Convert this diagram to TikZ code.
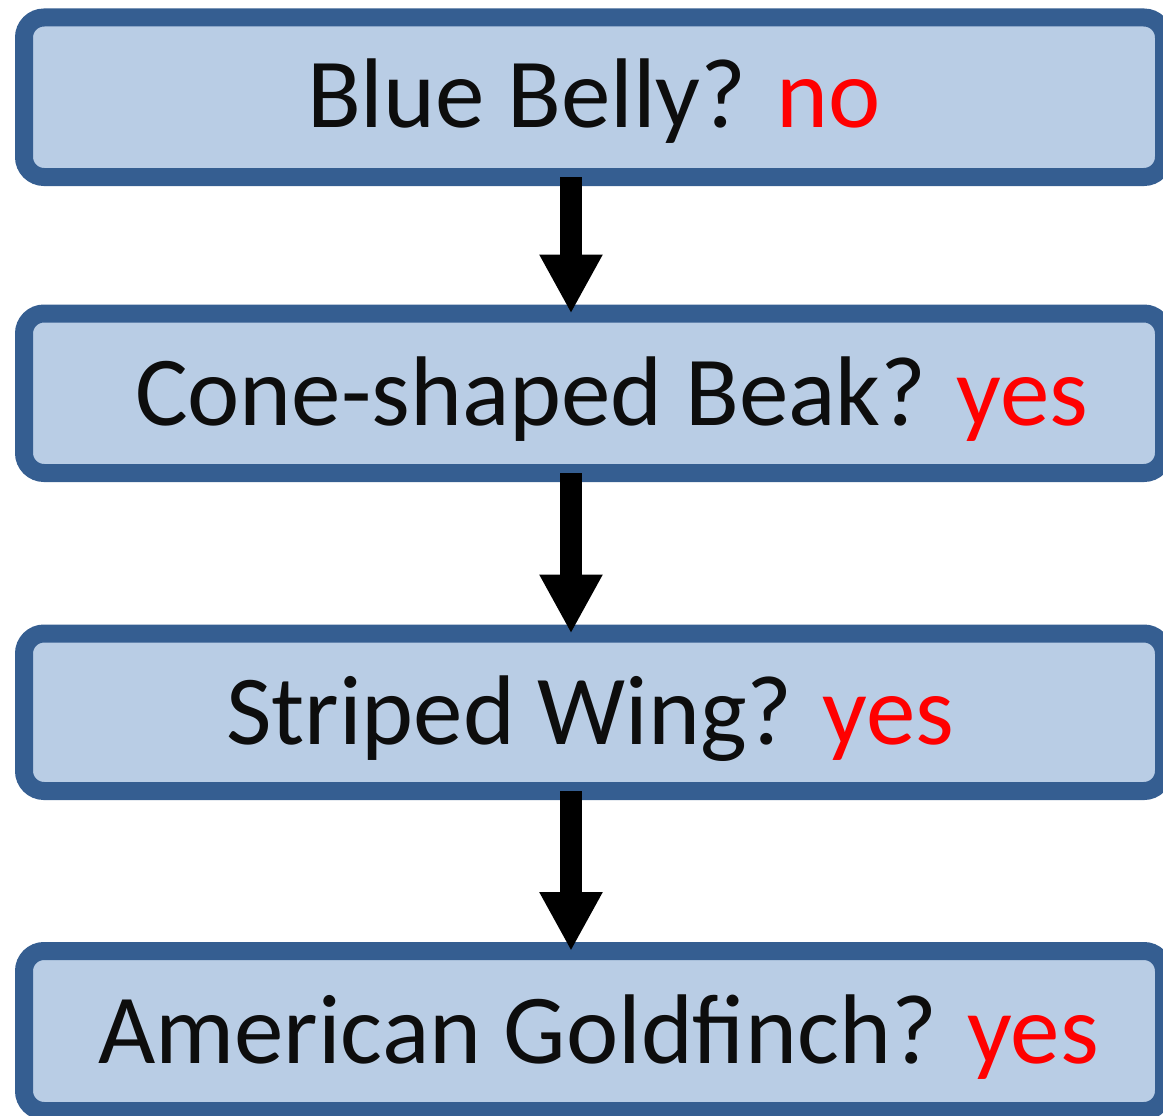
\documentclass[tikz,border=0pt]{standalone}
\usepackage{fontspec}
\setmainfont{Carlito}
\usetikzlibrary{arrows.meta}
\definecolor{boxborder}{RGB}{53,94,145}
\definecolor{boxfill}{RGB}{185,205,229}
\definecolor{txtblack}{RGB}{13,13,13}
\definecolor{ansred}{RGB}{255,0,0}
\tikzset{
  qbox/.style={draw=boxborder, fill=boxfill, line width=18pt, rounded corners=20pt,
    minimum width=1140pt, inner sep=0pt, outer sep=0pt},
  qtext/.style={anchor=base west, inner sep=0pt, outer sep=0pt, text=txtblack,
    font=\fontsize{99pt}{110pt}\selectfont},
  flow/.style={line width=22pt, draw=black,
    -{Triangle[width=59pt,length=59pt]}},
  ans/.style={text=ansred}
}
\begin{document}
\begin{tikzpicture}[x=1pt,y=-1pt]
\useasboundingbox (0,0) rectangle (1163,1116);
\clip (0,0) rectangle (1163,1116);
\node[qbox, minimum height=159.5pt] (b1) at (594,97.25) {};
\node[qbox, minimum height=159.5pt] (b2) at (594,393.25) {};
\node[qbox, minimum height=157.5pt] (b3) at (594,712.25) {};
\node[qbox, minimum height=160pt] (b4) at (594,1031) {};
\node[qtext] (t1) at (307,128) {Blue Belly? \textcolor{ansred}{no}};
\node[qtext] (t2) at (135,425) {Cone-shaped Beak? \textcolor{ansred}{yes}};
\node[qtext] (t3) at (226,744) {Striped Wing? \textcolor{ansred}{yes}};
\node[qtext] (t4) at (98,1063) {American Goldfinch? \textcolor{ansred}{yes}};
\draw[flow] ([xshift=-23pt]b1.south) -- ([xshift=-23pt]b2.north);
\draw[flow] ([xshift=-23pt]b2.south) -- ([xshift=-23pt]b3.north);
\draw[flow] ([xshift=-23pt]b3.south) -- ([xshift=-23pt]b4.north);
\end{tikzpicture}
\end{document}
